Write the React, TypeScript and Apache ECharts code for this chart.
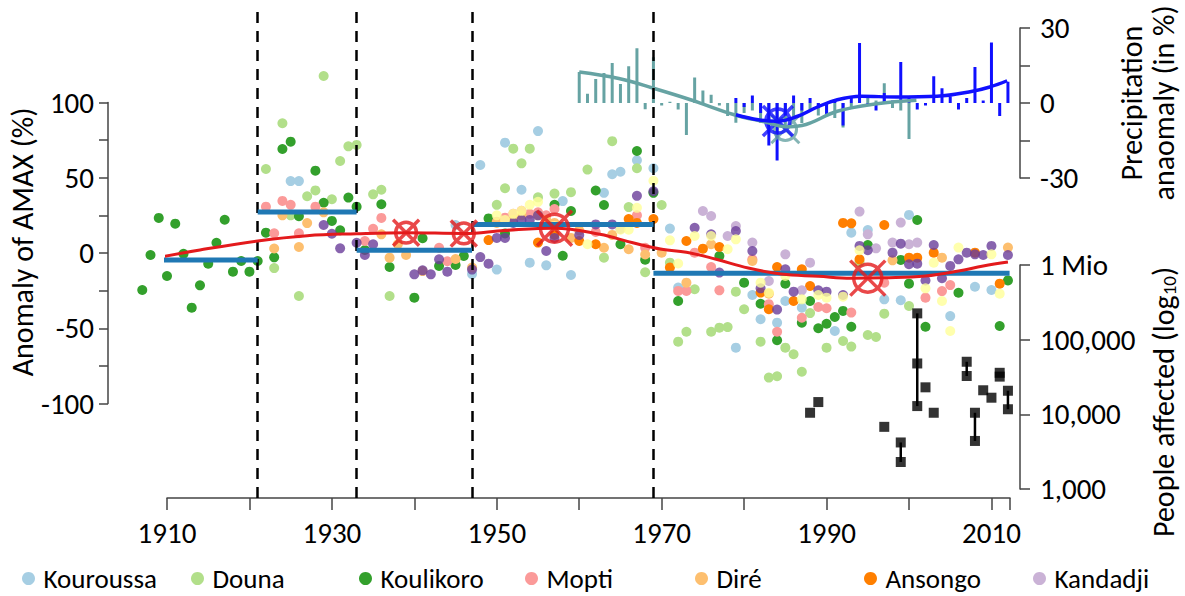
import React, { useEffect, useRef } from 'react';
import * as echarts from 'echarts';

const FONT = 'Carlito, Lato, sans-serif';
const FS_TICK = 29;
const FS_TITLE = 30;
const FS_LEGEND = 27;

// ---------- x axis ----------
const X_MIN = 1910;
const X_MAX = 2012.25;
const xLabelYears = [1910, 1930, 1950, 1970, 1990, 2010];
const dividers = [1921, 1933, 1947, 1969];

// ---------- stations (AMAX anomaly, %) ----------
const legendNames = ['Kouroussa', 'Douna', 'Koulikoro', 'Mopti', 'Diré', 'Ansongo', 'Kandadji'];
const legendColors = ['#a6cee3', '#b2df8a', '#33a02c', '#fb9a99', '#fdbf6f', '#ff7f00', '#cab2d6'];
const legendIconX = [27, 196, 364, 530, 700, 869, 1038];

const kouroussa = [
  [1925, 47.8], [1926, 47.8], [1945, 18.6], [1947, -14], [1948, 58.5], [1950, -11], [1951, 73.3], [1953, 42],
  [1954, -6.4], [1955, 81], [1956, -8.2], [1958, 34.5], [1959, -14.6], [1963, 40], [1964, 52.3], [1965, 54],
  [1967, 61.6], [1969, 56.3], [1971, 16.2], [1972, -23], [1979, -62.9], [1981, -27.9], [1982, -44], [1984, -46.3],
  [1985, -31.9], [1987, -36.3], [1991, -51.8], [1993, 13.5], [1995, 15.3], [1997, -30.8], [1999, -31.4],
  [2000, 25.3], [2005, -41.9], [2008, -22.4], [2010, -24.6],
];
const douna = [
  [1922, 55.8], [1923, -10], [1924, 86.2], [1925, 25], [1926, -28.6], [1927, 37.7], [1928, 41.6], [1929, 117.6],
  [1930, 35.7], [1931, 61.1], [1932, 70.9], [1933, 71.8], [1935, 39], [1936, 42], [1937, -28.6], [1950, 32],
  [1951, 43], [1952, 69.3], [1953, 59.6], [1954, 69.3], [1955, 37], [1957, 39.5], [1959, 40.4], [1961, 55.4],
  [1963, -3.1], [1964, 74.3], [1966, 30.5], [1967, 56.3], [1968, -12.8], [1970, 31.9], [1971, -6.4], [1972, -58.9],
  [1973, -52.3], [1974, -24.1], [1976, -52.3], [1977, -49.6], [1978, -49.2], [1979, -25.7], [1980, -37.4],
  [1982, -58.9], [1983, -82.8], [1984, -81.9], [1985, -62.9], [1986, -67.3], [1987, -78.9], [1988, -39.9],
  [1990, -62.9], [1992, -58.5], [1993, -62.2], [1994, -6], [1995, -54.5], [1996, -55.8], [1997, -40.3], [2000, -35.2],
];
const koulikoro = [
  [1907, -24.6], [1908, -1.3], [1909, 23.3], [1910, -15.3], [1911, 19.5], [1912, -0.5], [1913, -36.3], [1914, -21.5],
  [1915, -7.1], [1916, 6.8], [1917, 22.1], [1918, -12.4], [1919, -5.3], [1920, -12.4], [1921, -5.3], [1922, 13.5],
  [1923, -2.9], [1924, 69.1], [1925, 74], [1926, 24.4], [1928, 54.7], [1929, 33.4], [1930, 21.3], [1931, 15.1],
  [1932, 36.8], [1933, 30.8], [1934, 2], [1936, 32.4], [1937, -9.3], [1940, -29.7], [1941, 9.8], [1943, -8.6],
  [1945, -8], [1946, -2], [1949, 23], [1951, 13], [1957, 32], [1958, -1.8], [1959, 27.9], [1962, 41.5], [1963, 31.9],
  [1965, 5.8], [1967, 67.8], [1968, -4.5], [1969, 40], [1972, -31.9], [1977, -2], [1980, -19.7], [1982, -33.7],
  [1984, -58], [1985, -20.4], [1987, -46.3], [1988, -31.9], [1989, -50], [1990, -47], [1991, -42.5], [1992, -38.5],
  [1993, -49], [1995, 5.3], [1999, -4.6], [2000, -20.4], [2001, 21.9], [2002, -49], [2006, -26.4], [2011, -48.5],
  [2012, -18.2],
];
const mopti = [
  [1922, 30.8], [1923, 13.1], [1924, 34.6], [1925, 32], [1926, 13.1], [1928, 30.8], [1934, 8], [1935, 16.1],
  [1936, 23.3], [1943, 3.5], [1944, -5.5], [1950, 20.8], [1951, 23.5], [1952, 26], [1953, 28], [1954, 26],
  [1955, 27], [1956, 25], [1957, 29.2], [1962, 14], [1967, 25], [1968, 3.5], [1972, -25.2], [1973, -25.2],
  [1974, 0.2], [1976, -9.3], [1977, -24.8], [1981, -4.2], [1983, -34], [1984, -52.3], [1987, -43], [1989, -35.9],
  [1990, -36.7], [1993, -39.6], [1997, -19.7], [2002, -29.7], [2004, -25.3], [2005, -21.3],
];
const dire = [
  [1923, 3], [1924, 25], [1926, 4], [1927, 19.9], [1929, 27], [1936, 12.4], [1937, -3.1], [1938, 5.8], [1939, -1.3],
  [1941, -12], [1945, -4], [1947, -9.7], [1950, 20], [1952, 22], [1953, 25], [1955, 25], [1956, 22], [1957, 20],
  [1959, 10], [1960, 15], [1963, 3.5], [1964, 12], [1966, 2.5], [1968, -1], [1970, 0.2], [1973, -19.7], [1976, 5.8],
  [1981, -5.3], [1983, -27], [1998, -4.9], [2004, -3.1], [2012, 3.6],
];
const ansongo = [
  [1949, 8.6], [1955, 6.9], [1957, 12], [1960, 8], [1962, 5.8], [1966, 22.6], [1967, 20], [1969, 22.6], [1971, -9.7],
  [1973, 8], [1975, 2.9], [1977, 4], [1982, -26.3], [1983, -37.4], [1984, -9.3], [1986, -31.9], [1987, -10.8],
  [1988, -21.9], [1992, 20], [1993, 19.7], [1994, -4.2], [1997, 18.6], [2000, -3.1], [2001, -3.1], [2003, 0.2],
  [2008, 0.2], [2011, -20.4],
];
const kandadji = [
  [1965, 16], [1975, 27.9], [1976, 24.6], [1978, 11.3], [1979, 17.9], [1981, 6.9], [1983, -18.6], [1985, -0.9],
  [1987, -24.8], [1988, -6.4], [1994, 27.5], [1995, 12.4], [1996, 3.1], [1998, 6.9], [1999, 20.2], [2000, 5.8],
  [2001, 6.9],
];
const purpleStation = [
  [1929, 18.6], [1930, 12.8], [1931, 3.1], [1933, 6.8], [1934, -1.3], [1935, 5.8], [1940, -14.2], [1941, -11.5],
  [1942, -14.2], [1943, -4.2], [1944, -12.4], [1947, -11], [1948, -2.7], [1949, -7.1], [1950, 10], [1951, 10],
  [1952, 20], [1953, 22], [1954, 22], [1955, 25], [1956, 1.3], [1957, 10], [1960, 12], [1962, 19], [1964, 19],
  [1967, 38], [1969, 41], [1974, 16.8], [1976, 12.4], [1977, -13], [1979, 14.6], [1981, 1.3], [1982, -23.5],
  [1984, -37.6], [1985, -10.8], [1986, -25.7], [1989, -24.8], [1990, -25.7], [1992, -27.9], [1994, 4.7], [1995, 1.8],
  [1998, 0.2], [1999, 6.2], [2000, -7.5], [2001, -7.1], [2002, -18.2], [2003, 5.3], [2004, -16.8], [2005, -8.6],
  [2006, -4.2], [2007, 0.2], [2008, -0.9], [2009, -1.3], [2010, 4.7], [2012, -1.3],
];
const yellowStation = [
  [1950, 25], [1951, 22], [1952, 26], [1953, 28], [1954, 32], [1955, 34], [1957, 18], [1961, 5.8], [1965, 15.5],
  [1966, 15.5], [1967, 30], [1969, 48], [1971, 8.4], [1972, -7], [1974, 11.3], [1976, 11.3], [1978, 2.5], [1979, 9.1],
  [1982, -19.7], [1983, -26.4], [1985, -15.3], [1987, -30.8], [1989, -27.9], [1990, -29.7], [1992, -29], [1994, 1.8],
  [2002, -23.5], [2003, -6.4], [2004, -31.9], [2005, -51.8], [2006, 3.6], [2010, -0.9], [2011, -27],
];

// segment means (blue steps)
const stepStarts = [1907, 1921, 1933, 1947, 1969];
const stepEnds = [1921, 1933, 1947, 1969, 2012.2];
const stepMeans = [-4.7, 27.2, 1.8, 19, -13.5];

// smooth trend (red)
const trendYears = [1907, 1914, 1921, 1927, 1933, 1939, 1946, 1951, 1957, 1962.5, 1966.5, 1970, 1973, 1976.5, 1980.5, 1984.5, 1989, 1993, 1997, 2002, 2006, 2009, 2012];
const trendValues = [-4.9, 2, 8, 11.5, 12.8, 13.5, 13, 15, 16.5, 12.4, 6.8, 2.5, 0.5, -4, -10, -14, -15.5, -16.8, -16.5, -15.3, -12, -8.6, -6];
const trendMarkYears = [1939, 1946, 1957, 1995];
const trendMarkValues = [13.5, 13, 16.5, -16.7];
const trendMarkSizes = [26, 26, 35, 35];

// ---------- precipitation anomaly (%) ----------
const tealYears = [1960, 1961, 1962, 1963, 1964, 1965, 1966, 1967, 1968, 1969, 1970, 1971, 1972, 1973, 1974, 1975, 1976, 1977, 1978, 1979, 1980, 1981, 1982, 1983, 1984, 1985, 1986, 1987, 1988, 1989, 1990, 1991, 1992, 1993, 1994, 1995, 1996, 1997, 1998, 1999, 2000];
const tealValues = [12.4, 3.7, 9.6, 12, 16, 7.6, 14.7, 21.9, -2.5, 18.3, -1, 0.5, -2.6, -12.8, 10.2, 5, 3.3, -1, -5.2, -7.9, -4, -3, -8, -12, -14, -10, -6, -8, -3, -5, -4, -6, -9.8, -2, 3, 2, 1, 7.9, -2, -3, -14.4];
const tealCurveYears = [1960, 1964.8, 1969, 1973.5, 1978.8, 1982.7, 1985, 1987, 1991.3, 1996.1, 2000.9];
const tealCurveValues = [12.4, 9.8, 5.9, 1.3, -4.7, -7.7, -9.5, -9, -3.3, -0.3, 1.1];
const blueYears = [1979, 1980, 1981, 1982, 1983, 1984, 1985, 1986, 1987, 1988, 1989, 1990, 1991, 1992, 1993, 1994, 1995, 1996, 1997, 1998, 1999, 2000, 2001, 2002, 2003, 2004, 2005, 2006, 2007, 2008, 2009, 2010, 2011, 2012];
const blueValues = [2, -1.6, 3, -4, -17, -23, -5, 3, -3, 2, -2, -5, 1, -9, 2, 24, -1, -3, 4, 1, 16.4, 2, -2.6, -1, 10.7, 5.9, 2.6, -2.6, 2, 14.4, 1, 24.2, -5.2, 8.5];
const blueCurveYears = [1979, 1981.7, 1984, 1986.5, 1988.9, 1991.3, 1994.2, 1998.5, 2003.4, 2007.7, 2009.8, 2011.9];
const blueCurveValues = [-4.7, -6.7, -7.3, -5.3, -1.6, 1.3, 2.7, 2.4, 2.7, 4.7, 6.4, 8.9];
const precipMarks = [[1985, -10.5], [1984.1, -7.2]];

// ---------- people affected ----------
const peopleSquares = [
  [1988, 10500], [1989, 14600], [1997, 6800], [1999, 4200], [1999, 2300], [2001, 225000], [2001, 48000],
  [2001, 12900], [2002, 23000], [2003, 10500], [2007, 50600], [2007, 32600], [2008, 10500], [2008, 4400],
  [2009, 21000], [2010, 16700], [2011, 36000], [2011, 32000], [2012, 20700], [2012, 11700],
];
const peopleRanges = [[1999, 2300, 4200], [2001, 12900, 225000], [2007, 32600, 50600], [2008, 4400, 10500], [2012, 11700, 20700]];
const peopleLabels: Record<number, string> = { 3: '1,000', 4: '10,000', 5: '100,000', 6: '1 Mio' };

const OTIMES = 'path://M-1,-1L1,1M1,-1L-1,1M0.8,0A0.8,0.8,0,1,1,-0.8,0A0.8,0.8,0,1,1,0.8,0Z';

const GRID_LEFT = 167;
const GRID_W = 843;

function buildOption() {
  const txt = { fontFamily: FONT, fontSize: FS_TICK, color: '#000' };
  const axisLineStyle = { color: '#444', width: 1.5 };
  const xAxisFor = (gridIndex: number, show: boolean) => ({
    type: 'value', gridIndex, min: X_MIN, max: X_MAX, interval: 10, show,
    splitLine: { show: false },
    axisLine: { show: true, onZero: false, lineStyle: axisLineStyle },
    axisTick: { length: 12, lineStyle: axisLineStyle },
    axisLabel: {
      ...txt, margin: 20,
      formatter: (v: number) => (xLabelYears.includes(Math.round(v * 100) / 100) ? String(v) : ''),
    },
  });

  const stations = [kouroussa, douna, koulikoro, mopti, dire, ansongo, kandadji];
  const scatterSeries: any[] = stations.map((d, i) => ({
    name: legendNames[i], type: 'scatter', xAxisIndex: 0, yAxisIndex: 0, data: d,
    symbolSize: 10, clip: false, itemStyle: { color: legendColors[i], opacity: 1 },
  }));
  scatterSeries.push({ name: 'station-purple', type: 'scatter', xAxisIndex: 0, yAxisIndex: 0, data: purpleStation, symbolSize: 10, clip: false, itemStyle: { color: '#6a3d9a' } });
  scatterSeries.push({ name: 'station-yellow', type: 'scatter', xAxisIndex: 0, yAxisIndex: 0, data: yellowStation, symbolSize: 10, clip: false, itemStyle: { color: '#ffff99' } });

  const stepSeries = stepStarts.map((s, i) => ({
    type: 'line', xAxisIndex: 0, yAxisIndex: 0, clip: false, symbol: 'none', silent: true,
    data: [[s, stepMeans[i]], [stepEnds[i], stepMeans[i]]],
    lineStyle: { color: '#1f78b4', width: 5 }, z: 5,
  }));

  const legends = legendNames.map((n, i) => ({
    data: [n], left: legendIconX[i] - 10, top: 560, icon: 'circle', itemWidth: 20, itemHeight: 13,
    textStyle: { fontFamily: FONT, fontSize: FS_LEGEND, color: '#000' }, selectedMode: false,
  }));

  const titleFont = `${FS_TITLE}px ${FONT}`;

  return {
    animation: false,
    backgroundColor: '#fff',
    grid: [
      { left: GRID_LEFT, width: GRID_W, top: 102.5, height: 301 },
      { left: GRID_LEFT, width: GRID_W, top: 5, height: 493 },
      { left: GRID_LEFT, width: GRID_W, top: 28, height: 150 },
      { left: GRID_LEFT, width: GRID_W, top: 265, height: 224 },
    ],
    legend: legends,
    xAxis: [xAxisFor(0, false), xAxisFor(1, true), xAxisFor(2, false), xAxisFor(3, false)],
    yAxis: [
      {
        type: 'value', gridIndex: 0, min: -100, max: 100, interval: 25, position: 'left', offset: 59,
        splitLine: { show: false }, axisLine: { show: true, lineStyle: axisLineStyle },
        axisTick: { length: 9, lineStyle: axisLineStyle },
        axisLabel: { ...txt, margin: 14, formatter: (v: number) => (v % 50 === 0 ? String(v) : '') },
      },
      { type: 'value', gridIndex: 1, min: 0, max: 1, show: false },
      {
        type: 'value', gridIndex: 2, min: -30, max: 30, interval: 15, position: 'right', offset: 10,
        splitLine: { show: false }, axisLine: { show: true, lineStyle: axisLineStyle },
        axisTick: { length: 10, lineStyle: axisLineStyle },
        axisLabel: { ...txt, margin: 20, formatter: (v: number) => (v % 30 === 0 ? String(v) : '') },
      },
      {
        type: 'log', logBase: 10, gridIndex: 3, min: 1000, max: 1000000, position: 'right', offset: 10,
        splitLine: { show: false }, axisLine: { show: true, lineStyle: axisLineStyle },
        axisTick: { length: 10, lineStyle: axisLineStyle },
        axisLabel: { ...txt, margin: 20, formatter: (v: number) => peopleLabels[Math.round(Math.log10(v))] || '' },
      },
    ],
    graphic: [
      { type: 'text', x: 22, y: 242, rotation: Math.PI / 2, style: { text: 'Anomaly of AMAX (%)', font: titleFont, fill: '#000', align: 'center', verticalAlign: 'middle' } },
      { type: 'text', x: 1131, y: 103, rotation: Math.PI / 2, style: { text: 'Precipitation', font: titleFont, fill: '#000', align: 'center', verticalAlign: 'middle' } },
      { type: 'text', x: 1163, y: 103, rotation: Math.PI / 2, style: { text: 'anaomaly (in %)', font: titleFont, fill: '#000', align: 'center', verticalAlign: 'middle' } },
      {
        type: 'text', x: 1163, y: 402, rotation: Math.PI / 2,
        style: {
          text: '{a|People affected (log}{b|10}{a|)}', align: 'center', verticalAlign: 'middle',
          rich: {
            a: { fontFamily: FONT, fontSize: FS_TITLE, fill: '#000', color: '#000', lineHeight: 38, verticalAlign: 'middle' },
            b: { fontFamily: FONT, fontSize: 19, fill: '#000', color: '#000', lineHeight: 38, verticalAlign: 'bottom', padding: [0, 0, 3, 0] },
          },
        },
      },
    ],
    series: [
      ...scatterSeries,
      ...stepSeries,
      {
        type: 'line', xAxisIndex: 0, yAxisIndex: 0, clip: false, symbol: 'none', smooth: 0.4, silent: true, z: 6,
        data: trendYears.map((y, i) => [y, trendValues[i]]),
        lineStyle: { color: '#e31a1c', width: 3 },
      },
      {
        type: 'scatter', xAxisIndex: 0, yAxisIndex: 0, clip: false, symbol: OTIMES, silent: true, z: 7,
        data: trendMarkYears.map((y, i) => ({ value: [y, trendMarkValues[i]], symbolSize: trendMarkSizes[i] })),
        itemStyle: { color: 'rgba(0,0,0,0)', borderColor: '#e31a1c', borderWidth: 3.5 },
      },
      {
        type: 'line', xAxisIndex: 1, yAxisIndex: 1, data: dividers.map((d) => [d, 0]), symbol: 'none',
        lineStyle: { opacity: 0 }, silent: true,
        markLine: {
          silent: true, symbol: 'none', label: { show: false },
          lineStyle: { color: '#000', type: [11, 8], width: 2.5 },
          data: dividers.map((d) => ({ xAxis: d })),
        },
      },
      {
        type: 'bar', xAxisIndex: 2, yAxisIndex: 2, barWidth: 3, silent: true,
        data: tealYears.map((y, i) => [y, tealValues[i]]), itemStyle: { color: '#66a3a3' },
      },
      {
        type: 'bar', xAxisIndex: 2, yAxisIndex: 2, barWidth: 3, barGap: '-100%', silent: true,
        data: blueYears.map((y, i) => [y, blueValues[i]]), itemStyle: { color: '#1010ff' },
      },
      {
        type: 'line', xAxisIndex: 2, yAxisIndex: 2, symbol: 'none', smooth: 0.4, silent: true, clip: false,
        data: tealCurveYears.map((y, i) => [y, tealCurveValues[i]]), lineStyle: { color: '#66a3a3', width: 3.5 },
      },
      {
        type: 'scatter', xAxisIndex: 2, yAxisIndex: 2, symbol: OTIMES, symbolSize: 28, silent: true,
        data: [precipMarks[0]], itemStyle: { color: 'rgba(0,0,0,0)', borderColor: '#66a3a3', borderWidth: 3 },
      },
      {
        type: 'line', xAxisIndex: 2, yAxisIndex: 2, symbol: 'none', smooth: 0.4, silent: true, clip: false,
        data: blueCurveYears.map((y, i) => [y, blueCurveValues[i]]), lineStyle: { color: '#1010ff', width: 3.5 },
      },
      {
        type: 'scatter', xAxisIndex: 2, yAxisIndex: 2, symbol: OTIMES, symbolSize: 30, silent: true,
        data: [precipMarks[1]], itemStyle: { color: 'rgba(0,0,0,0)', borderColor: '#1010ff', borderWidth: 3.5 },
      },
      {
        type: 'custom', xAxisIndex: 3, yAxisIndex: 3, silent: true, data: peopleRanges,
        renderItem: (_p: any, api: any) => {
          const a = api.coord([api.value(0), api.value(1)]);
          const b = api.coord([api.value(0), api.value(2)]);
          return { type: 'line', shape: { x1: a[0], y1: a[1], x2: b[0], y2: b[1] }, style: { stroke: '#000', lineWidth: 2.5 } };
        },
      },
      {
        type: 'scatter', xAxisIndex: 3, yAxisIndex: 3, symbol: 'rect', symbolSize: 10, silent: true,
        data: peopleSquares, itemStyle: { color: '#000' }, z: 3,
      },
    ],
  };
}

export default function App() {
  const ref = useRef<HTMLDivElement>(null);
  useEffect(() => {
    if (!ref.current) return;
    const chart = echarts.init(ref.current, null, { renderer: 'svg' });
    chart.setOption(buildOption() as any);
    return () => chart.dispose();
  }, []);
  return <div ref={ref} style={{ position: 'fixed', left: 0, top: 0, width: 1185, height: 596, background: '#fff' }} />;
}
